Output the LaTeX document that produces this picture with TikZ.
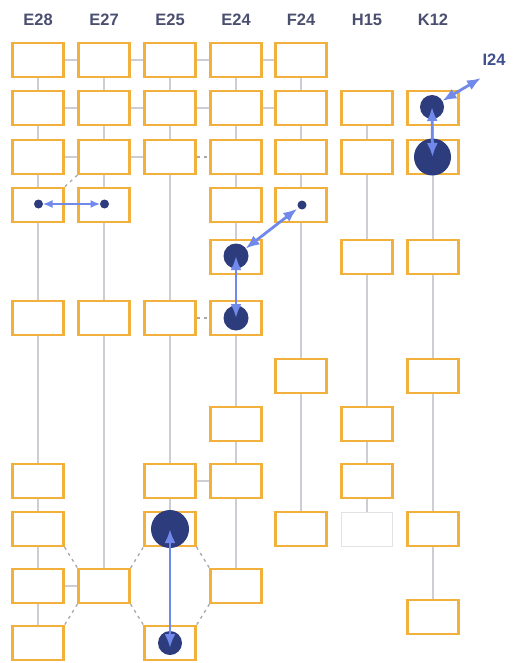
\documentclass[tikz,border=0pt]{standalone}
\usepackage{fontspec}
\setmainfont{Liberation Sans}
\usetikzlibrary{arrows.meta,backgrounds}
\definecolor{boxor}{HTML}{F2B03C}
\definecolor{gline}{HTML}{CDCDD3}
\definecolor{gdash}{HTML}{A8A8AE}
\definecolor{navy}{HTML}{2D3C7D}
\definecolor{ablue}{HTML}{7089EA}
\definecolor{lbl}{HTML}{4A4F70}
\definecolor{lblb}{HTML}{3F4F90}
\definecolor{faded}{HTML}{E2E2E6}
\begin{document}
\begin{tikzpicture}[x=1pt,y=-1pt,
  box/.style={draw=boxor,line width=2.2pt,fill=white,minimum width=51pt,minimum height=34pt,inner sep=0pt},
  fadedbox/.style={box,draw=faded,line width=1pt},
  vline/.style={draw=gline,line width=1.5pt},
  hline/.style={draw=gline,line width=1.5pt},
  dline/.style={draw=gdash,line width=1.3pt,dash pattern=on 3pt off 4pt},
  dot/.style={circle,fill=navy,inner sep=0pt,minimum size=#1},
  dbl/.style={draw=ablue,line width=2.8pt,{Latex[length=14pt,width=11pt]}-{Latex[length=14pt,width=11pt]}},
  dbls/.style={draw=ablue,line width=2pt,{Latex[length=10pt,width=8pt]}-{Latex[length=10pt,width=8pt]}},
  collbl/.style={font=\bfseries\fontsize{16.5}{18}\selectfont,text=lbl,inner sep=0pt}
]
\useasboundingbox (0,0) rectangle (512,663);
% column labels
\node[collbl] (la) at (38,20) {E28};
\node[collbl] (lb) at (104,20) {E27};
\node[collbl] (lc) at (170,20) {E25};
\node[collbl] (ld) at (236,20) {E24};
\node[collbl] (le) at (301,20) {F24};
\node[collbl] (lf) at (367,20) {H15};
\node[collbl] (lg) at (433,20) {K12};
\node[collbl,text=lblb] (li) at (494,60) {I24};
% boxes
\foreach \r/\y in {1/60,2/108,3/157,4/205,6/318,9/481,10/529,11/586,12/643}
  \node[box] (a\r) at (38,\y) {};
\foreach \r/\y in {1/60,2/108,3/157,4/205,6/318,11/586}
  \node[box] (b\r) at (104,\y) {};
\foreach \r/\y in {1/60,2/108,3/157,6/318,9/481,10/529,12/643}
  \node[box] (c\r) at (170,\y) {};
\foreach \r/\y in {1/60,2/108,3/157,4/205,5/257,6/318,8/424,9/481,11/586}
  \node[box] (d\r) at (236,\y) {};
\foreach \r/\y in {1/60,2/108,3/157,4/205,7/376,10/529}
  \node[box] (e\r) at (301,\y) {};
\foreach \r/\y in {2/108,3/157,5/257,8/424,9/481}
  \node[box] (f\r) at (367,\y) {};
\node[fadedbox] (f10) at (367,529) {};
\foreach \r/\y in {2/108,3/157,5/257,7/376,10/529,13/617}
  \node[box] (g\r) at (433,\y) {};
% connectors behind the boxes
\begin{scope}[on background layer]
\draw[vline] (a1.center) -- (a12.center);
\draw[vline] (b1.center) -- (b11.center);
\draw[vline] (c1.center) -- (c10.center);
\draw[vline] (d1.center) -- (d11.center);
\draw[vline] (e1.center) -- (e10.center);
\draw[vline] (f2.center) -- (f10.center);
\draw[vline] (g2.center) -- (g13.center);
\foreach \r in {1,2}{
  \draw[hline] (a\r) -- (b\r);
  \draw[hline] (b\r) -- (c\r);
  \draw[hline] (c\r) -- (d\r);
  \draw[hline] (d\r) -- (e\r);
}
\draw[hline] (a3) -- (b3);
\draw[hline] (b3) -- (c3);
\draw[dline] (c3) -- (d3);
\draw[dline] (c6) -- (d6);
\draw[hline] (c9) -- (d9);
\draw[hline] (a11) -- (b11);
\draw[dline] (b3.south west) -- (a4.north east);
\draw[dline] (a10.south east) -- (b11.north west);
\draw[dline] (b11.south west) -- (a12.north east);
\draw[dline] (b11.north east) -- (c10.south west);
\draw[dline] (b11.south east) -- (c12.north west);
\draw[dline] (c10.south east) -- (d11.north west);
\draw[dline] (d11.south west) -- (c12.north east);
\end{scope}
% dots
\node[dot=9pt] (pa4) at (38.5,204) {};
\node[dot=9pt] (pb4) at (104.5,204) {};
\node[dot=25pt] (pd5) at (236,256) {};
\node[dot=25pt] (pd6) at (236,318) {};
\node[dot=9pt] (pe4) at (302,205) {};
\node[dot=24pt] (pg2) at (432,107) {};
\node[dot=37pt] (pg3) at (432.5,157) {};
\node[dot=38pt] (pc10) at (170,529) {};
\node[dot=24pt] (pc12) at (170,643) {};
\coordinate (ti) at (481,78);
\coordinate (tc12) at (170,648);
% arrows
\draw[dbls,shorten <=4pt,shorten >=4pt] (pa4.center) -- (pb4.center);
\draw[dbl] (pd5.center) -- (pd6.center);
\draw[dbl,shorten <=12pt,shorten >=6pt] (pd5.center) -- (pe4.center);
\draw[dbl] (pg2.center) -- (pg3.center);
\draw[dbl,shorten <=12pt] (pg2.center) -- (ti);
\draw[dbl] (pc10.center) -- (tc12);
\end{tikzpicture}
\end{document}
